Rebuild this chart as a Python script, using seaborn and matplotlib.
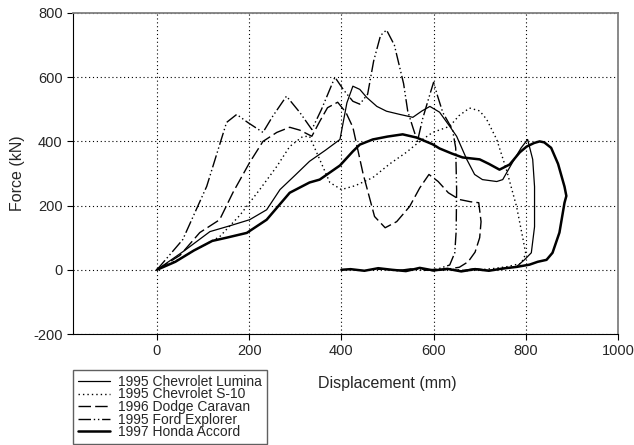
import numpy as np
import pandas as pd
import matplotlib
matplotlib.use("Agg")
import matplotlib.pyplot as plt
import seaborn as sns

# crash force vs displacement curves
lumina_x = [0, 60, 115, 158, 201, 238, 267, 300, 331, 365, 397, 412, 425, 440, 455, 477, 498, 527,
            555, 575, 592, 613, 635, 650, 672, 689, 706, 737, 750, 771, 790, 804, 815, 819, 819,
            812, 797, 780, 750, 720, 690, 660, 630, 600]
lumina_y = [0, 60, 119, 137, 156, 187, 250, 295, 338, 372, 406, 520, 572, 562, 537, 509, 494, 484,
            475, 495, 509, 491, 447, 416, 344, 297, 281, 275, 281, 334, 380, 406, 344, 259, 134,
            53, 31, 10, 3, -2, 4, -3, 2, 0]

s10_x = [0, 50, 100, 136, 180, 223, 260, 288, 316, 331, 345, 375, 400, 430, 468, 505, 541, 570,
         598, 635, 655, 678, 700, 715, 737, 758, 780, 793, 800, 790, 760, 730, 700, 670, 640, 610, 590]
s10_y = [0, 35, 75, 103, 170, 250, 322, 384, 415, 416, 370, 272, 250, 262, 287, 330, 366, 400,
         428, 447, 480, 504, 495, 469, 406, 312, 197, 103, 50, 20, 10, 4, 0, -3, 2, -2, 0]

caravan_x = [0, 50, 93, 136, 165, 201, 230, 260, 288, 310, 336, 353, 370, 392, 410, 425, 447, 472,
             495, 520, 548, 570, 590, 610, 632, 656, 680, 698, 703, 700, 690, 675, 656, 630, 600,
             570, 540, 510]
caravan_y = [0, 45, 116, 156, 241, 334, 400, 428, 444, 435, 416, 462, 505, 522, 490, 444, 300, 166,
             131, 150, 197, 255, 297, 275, 240, 219, 212, 209, 150, 100, 55, 25, 8, 2, -3, 3, -2, 0]

explorer_x = [0, 56, 108, 151, 173, 197, 230, 251, 281, 310, 336, 357, 386, 405, 425, 440, 457,
              470, 485, 498, 515, 535, 544, 555, 565, 576, 590, 600, 609, 620, 641, 648, 650, 649,
              646, 635, 610, 580, 550, 520, 490, 460]
explorer_y = [0, 94, 260, 459, 484, 459, 428, 478, 541, 490, 437, 500, 600, 560, 525, 516, 547,
              650, 730, 747, 700, 580, 494, 444, 400, 469, 537, 584, 540, 490, 437, 380, 250, 120,
              53, 15, 3, -2, 3, -3, 2, 0]

accord_x = [0, 40, 80, 120, 151, 195, 238, 288, 331, 353, 397, 425, 440, 468, 500, 533, 563, 598,
            613, 640, 663, 700, 720, 743, 765, 787, 802, 818, 830, 840, 855, 870, 884, 888, 884,
            873, 858, 845, 826, 808, 780, 750, 720, 690, 660, 630, 600, 570, 540, 510, 480, 450,
            420, 400]
accord_y = [0, 25, 60, 90, 100, 115, 156, 240, 272, 281, 325, 369, 390, 406, 415, 422, 412, 391,
            378, 362, 350, 344, 330, 312, 328, 366, 384, 395, 400, 397, 380, 330, 259, 230, 209,
            116, 53, 31, 25, 16, 9, 4, -3, 2, -5, 3, -2, 6, -4, 0, 5, -3, 2, 0]

series = [
    ("1995 Chevrolet Lumina", lumina_x, lumina_y, "-", 0.9),
    ("1995 Chevrolet S-10", s10_x, s10_y, (0, (1, 2.2)), 1.0),
    ("1996 Dodge Caravan", caravan_x, caravan_y, (0, (9, 3)), 1.0),
    ("1995 Ford Explorer", explorer_x, explorer_y, (0, (9, 2, 1, 2, 1, 2)), 1.0),
    ("1997 Honda Accord", accord_x, accord_y, "-", 1.8),
]

sns.set_style("white")
plt.rcParams["font.family"] = ["Liberation Sans", "DejaVu Sans"]
plt.rcParams["axes.unicode_minus"] = False

fig = plt.figure(figsize=(6.34, 4.45), dpi=100)
ax = fig.add_axes([73 / 634, 1 - 334 / 445, (618 - 73) / 634, (334 - 13) / 445])

for name, xs, ys, ls, lw in series:
    df = pd.DataFrame({"Displacement": xs, "Force": ys})
    sns.lineplot(data=df, x="Displacement", y="Force", sort=False, estimator=None,
                 color="black", linestyle=ls, linewidth=lw, label=name, ax=ax)

ax.set_xlim(-182, 1000)
ax.set_ylim(-200, 800)
ax.set_xticks([0, 200, 400, 600, 800, 1000])
ax.set_yticks([-200, 0, 200, 400, 600, 800])
ax.grid(True, color="black", linestyle=(0, (1, 2.5)), linewidth=0.8)
ax.tick_params(axis="both", labelsize=10.5, length=4, width=0.8, color="black",
               direction="out", left=True, bottom=True)

for side in ["left", "bottom"]:
    ax.spines[side].set_color("black")
    ax.spines[side].set_linewidth(0.8)
for side in ["top", "right"]:
    ax.spines[side].set_color("#808080")
    ax.spines[side].set_linewidth(1.3)

ax.set_xlabel("Displacement (mm)", fontsize=11.5)
ax.set_ylabel("Force (kN)", fontsize=11.5)
ax.xaxis.set_label_coords(0.576, -0.13)
ax.yaxis.set_label_coords(-0.088, 0.5)

leg = ax.legend(loc="upper left", bbox_to_anchor=(73 / 634, 1 - 370 / 445),
                bbox_transform=fig.transFigure, fontsize=10, frameon=True,
                fancybox=False, labelspacing=-0.1, handlelength=2.3, handletextpad=0.6,
                borderpad=0.35, borderaxespad=0)
leg.get_frame().set_edgecolor("#606060")
leg.get_frame().set_linewidth(1.0)
leg.get_frame().set_alpha(1)

fig.savefig("out.png", dpi=100)
